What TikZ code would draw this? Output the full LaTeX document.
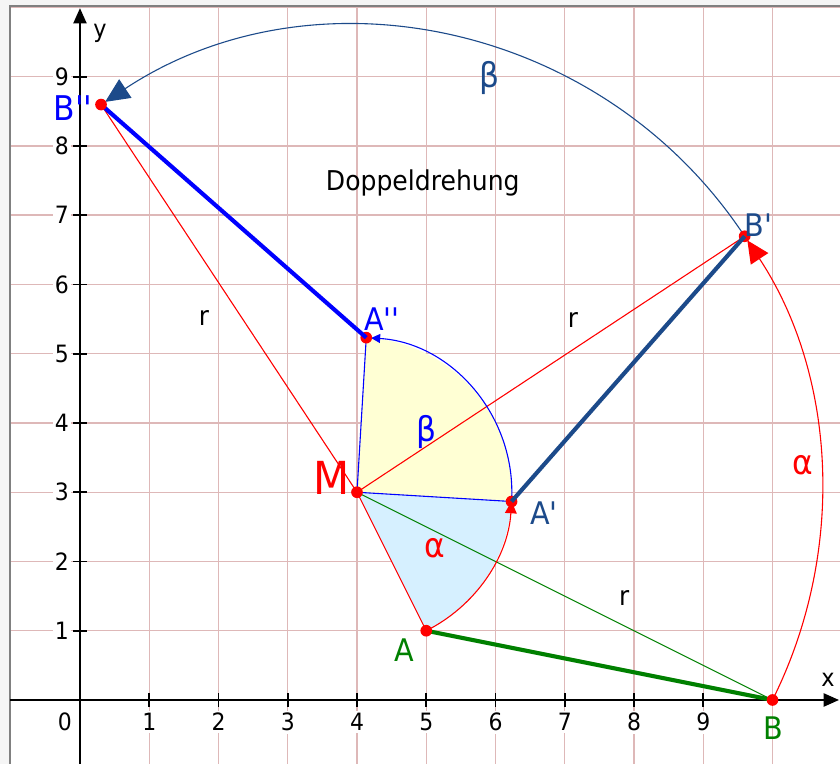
\documentclass[tikz,border=0pt]{standalone}
\usepackage{fontspec}
\newfontfamily\dvsans{DejaVu Sans}[FakeStretch=0.92]
\usetikzlibrary{arrows.meta}
\definecolor{gridrose}{RGB}{222,184,184}
\definecolor{navy}{RGB}{28,74,138}
\definecolor{ptblue}{RGB}{0,0,255}
\definecolor{ptgreen}{RGB}{0,128,0}
\definecolor{secyellow}{RGB}{255,255,212}
\definecolor{secblue}{RGB}{214,240,255}

\begin{document}
\begin{tikzpicture}[every node/.style={font=\dvsans\fontsize{10}{12}\selectfont},
  ticklab/.style={fill=white,inner sep=1pt,font=\dvsans\fontsize{9.8}{11}\selectfont},
  ptlab/.style={font=\dvsans\fontsize{12.8}{15}\selectfont},
  anglab/.style={font=\dvsans\fontsize{14}{16}\selectfont},
  rlab/.style={font=\dvsans\fontsize{11}{13}\selectfont},
  rline/.style={line width=.45pt},
  segline/.style={line width=1.7pt},
  axisline/.style={line width=.7pt,-{Triangle[length=.22cm,width=.19cm]}}]
\useasboundingbox (-1.155,-0.924) rectangle (10.975,10.108);
\fill[gray!8] (-1.155,-0.924) rectangle (10.975,10.108);
\fill[white] (-1.011,-0.924) rectangle (10.975,10.02);
% grid
\draw[gridrose,line width=.6pt] (-1,-0.924)--(-1,10.02);
\draw[gridrose,line width=.6pt] (1,-0.924)--(1,10.02);
\draw[gridrose,line width=.6pt] (2,-0.924)--(2,10.02);
\draw[gridrose,line width=.6pt] (3,-0.924)--(3,10.02);
\draw[gridrose,line width=.6pt] (4,-0.924)--(4,10.02);
\draw[gridrose,line width=.6pt] (5,-0.924)--(5,10.02);
\draw[gridrose,line width=.6pt] (6,-0.924)--(6,10.02);
\draw[gridrose,line width=.6pt] (7,-0.924)--(7,10.02);
\draw[gridrose,line width=.6pt] (8,-0.924)--(8,10.02);
\draw[gridrose,line width=.6pt] (9,-0.924)--(9,10.02);
\draw[gridrose,line width=.6pt] (10,-0.924)--(10,10.02);
\draw[gridrose,line width=.6pt] (-1.011,1)--(10.975,1);
\draw[gridrose,line width=.6pt] (-1.011,2)--(10.975,2);
\draw[gridrose,line width=.6pt] (-1.011,3)--(10.975,3);
\draw[gridrose,line width=.6pt] (-1.011,4)--(10.975,4);
\draw[gridrose,line width=.6pt] (-1.011,5)--(10.975,5);
\draw[gridrose,line width=.6pt] (-1.011,6)--(10.975,6);
\draw[gridrose,line width=.6pt] (-1.011,7)--(10.975,7);
\draw[gridrose,line width=.6pt] (-1.011,8)--(10.975,8);
\draw[gridrose,line width=.6pt] (-1.011,9)--(10.975,9);
\draw[gridrose,line width=.6pt] (-1.011,10)--(10.975,10);
\draw[gray,line width=.8pt] (-1.011,-0.924)--(-1.011,10.02)--(10.975,10.02);
% axes
\node[ticklab] (x0) at (-0.22,-0.32) {0};
\node[ticklab] (x1) at (1,-0.32) {1};
\node[ticklab] (x2) at (2,-0.32) {2};
\node[ticklab] (x3) at (3,-0.32) {3};
\node[ticklab] (x4) at (4,-0.32) {4};
\node[ticklab] (x5) at (5,-0.32) {5};
\node[ticklab] (x6) at (6,-0.32) {6};
\node[ticklab] (x7) at (7,-0.32) {7};
\node[ticklab] (x8) at (8,-0.32) {8};
\node[ticklab] (x9) at (9,-0.32) {9};
\node[ticklab] (y1) at (-0.26,1) {1};
\node[ticklab] (y2) at (-0.26,2) {2};
\node[ticklab] (y3) at (-0.26,3) {3};
\node[ticklab] (y4) at (-0.26,4) {4};
\node[ticklab] (y5) at (-0.26,5) {5};
\node[ticklab] (y6) at (-0.26,6) {6};
\node[ticklab] (y7) at (-0.26,7) {7};
\node[ticklab] (y8) at (-0.26,8) {8};
\node[ticklab] (y9) at (-0.26,9) {9};
\draw[axisline] (-1.011,0)--(10.96,0);
\draw[axisline] (0,-0.924)--(0,9.99);
\draw[line width=.7pt] (1,-.1)--(1,.1) (2,-.1)--(2,.1) (3,-.1)--(3,.1) (4,-.1)--(4,.1) (5,-.1)--(5,.1)
  (6,-.1)--(6,.1) (7,-.1)--(7,.1) (8,-.1)--(8,.1) (9,-.1)--(9,.1);
\draw[line width=.7pt] (-.1,1)--(.1,1) (-.1,2)--(.1,2) (-.1,3)--(.1,3) (-.1,4)--(.1,4) (-.1,5)--(.1,5)
  (-.1,6)--(.1,6) (-.1,7)--(.1,7) (-.1,8)--(.1,8) (-.1,9)--(.1,9);
\node (xlab) at (10.8,0.29) {x};
\node (ylab) at (0.29,9.63) {y};
% points
\coordinate (M) at (4,3);
\coordinate (A) at (5,1);
\coordinate (B) at (10,0);
\coordinate (A1) at (6.23205,2.86603);
\coordinate (B1) at (9.59808,6.69615);
\coordinate (A2) at (4.13397,5.23205);
\coordinate (B2) at (0.30385,8.59808);
\fill[secblue] (M)--(A) arc[start angle=-63.4349,end angle=-3.4349,radius=2.23607]--cycle;
\fill[secyellow] (M)--(A1) arc[start angle=-3.4349,end angle=86.5651,radius=2.23607]--cycle;
\draw[red,rline] (M)--(A);
\draw[ptblue,rline] (M)--(A1);
\draw[ptblue,rline] (M)--(A2);
\draw[ptgreen,rline] (M)--(B);
\draw[red,rline] (M)--(B1);
\draw[red,rline] (M)--(B2);
\draw[red,rline,-{Triangle[length=.17cm,width=.17cm]}] (A) arc[start angle=-63.4349,end angle=-3.4349,radius=2.23607];
\draw[ptblue,rline,-{Triangle[length=.13cm,width=.13cm]},shorten >=2pt] (A1) arc[start angle=-3.4349,end angle=86.5651,radius=2.23607];
\draw[red,rline,-{Triangle[length=.32cm,width=.3cm]},shorten >=2pt] (B) arc[start angle=-26.5651,end angle=33.4349,radius=6.70820];
\draw[navy,rline,-{Triangle[length=.35cm,width=.32cm]},shorten >=2pt] (B1) arc[start angle=33.4349,end angle=123.4349,radius=6.70820];
\fill[red] (A1) circle (2.4pt);
\fill[red] (B1) circle (2.4pt);
\fill[red] (A2) circle (2.4pt);
\draw[ptgreen,segline] (A)--(B);
\draw[navy,segline] (A1)--(B1);
\draw[ptblue,segline] (A2)--(B2);
\fill[red] (M) circle (2.4pt);
\fill[red] (A) circle (2.4pt);
\fill[red] (B) circle (2.4pt);
\fill[red] (B2) circle (2.4pt);
% labels
\node[ptlab,text=ptgreen] (labA) at (4.69,0.72) {A};
\node[ptlab,text=ptgreen] (labB) at (10.01,-0.40) {B};
\node[ptlab,text=navy] (labA1) at (6.70,2.70) {A'};
\node[ptlab,text=navy] (labB1) at (9.80,6.86) {B'};
\node[ptlab,text=ptblue] (labA2) at (4.36,5.50) {A''};
\node[ptlab,text=ptblue,font=\dvsans\fontsize{14}{16}\selectfont] (labB2) at (-0.10,8.55) {B''};
\node[text=red,font=\dvsans\fontsize{18.7}{21}\selectfont] (labM) at (3.64,3.21) {M};
\node[rlab] (r1) at (1.79,5.52) {r};
\node[rlab] (r2) at (7.12,5.49) {r};
\node[rlab] (r3) at (7.86,1.47) {r};
\node[anglab,text=red] (alpha1) at (5.13,2.19) {α};
\node[anglab,text=red] (alpha2) at (10.44,3.39) {α};
\node[anglab,text=ptblue] (beta1) at (5.01,3.87) {β};
\node[anglab,text=navy] (beta2) at (5.92,8.98) {β};
\node[font=\dvsans\fontsize{11.2}{13}\selectfont] (title) at (4.95,7.47) {Doppeldrehung};
\end{tikzpicture}
\end{document}
